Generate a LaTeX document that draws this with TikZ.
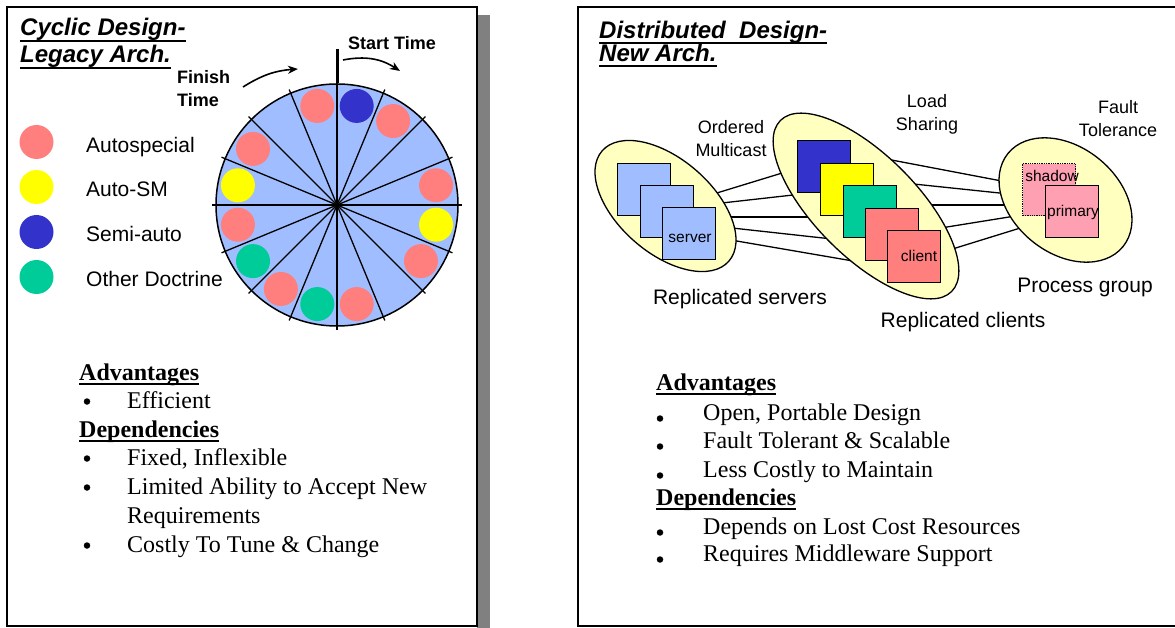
\documentclass[tikz,border=0pt]{standalone}
\usepackage{fontspec}
\setmainfont{Liberation Serif}
\setsansfont{Liberation Sans}
\usetikzlibrary{shapes.geometric,arrows.meta,calc}

\definecolor{wheelblue}{HTML}{A0BEFF}
\definecolor{autospec}{HTML}{FF7F7F}
\definecolor{autosm}{HTML}{FFFF00}
\definecolor{semiauto}{HTML}{3333CC}
\definecolor{doctrine}{HTML}{00CC99}
\definecolor{groupfill}{HTML}{FFFFC0}
\definecolor{procpink}{HTML}{FFA0B2}
\definecolor{shadegray}{HTML}{808080}

\tikzset{
  panel/.style={draw=black, line width=1.5pt, fill=white},
  titletext/.style={font=\sffamily\bfseries\itshape\fontsize{24}{28}\selectfont, anchor=base west, inner sep=0pt},
  titlerule/.style={line width=2pt},
  legenddot/.style={circle, minimum size=34pt, inner sep=0pt},
  slotdot/.style={circle, minimum size=34pt, inner sep=0pt},
  legendlabel/.style={font=\sffamily\fontsize{21}{25}\selectfont, anchor=base west, inner sep=0pt},
  timelabel/.style={font=\sffamily\bfseries\fontsize{18}{22}\selectfont, anchor=base west, inner sep=0pt},
  timearrow/.style={line width=1.6pt, -{Stealth[length=10pt,width=8pt,inset=3pt]}},
  spoke/.style={line width=1.3pt},
  heading/.style={font=\rmfamily\bfseries\fontsize{24}{28}\selectfont, anchor=base west, inner sep=0pt},
  headrule/.style={line width=2.3pt},
  bodytext/.style={font=\rmfamily\fontsize{24}{28}\selectfont, anchor=base west, inner sep=0pt},
  bulletdot/.style={circle, fill=black, minimum size=6.5pt, inner sep=0pt},
  group/.style={ellipse, draw=black, line width=1.3pt, fill=groupfill, inner sep=0pt},
  proc/.style={draw=black, line width=1.3pt, minimum width=53pt, minimum height=52pt, inner sep=0pt, anchor=north west},
  link/.style={line width=1.3pt},
  grouplabel/.style={font=\sffamily\fontsize{18}{22}\selectfont, anchor=base, inner sep=0pt},
  caption/.style={font=\sffamily\fontsize{21}{25}\selectfont, anchor=base, inner sep=0pt},
  boxlabel/.style={font=\sffamily\fontsize{15.5}{18}\selectfont, anchor=base, inner sep=0pt},
}

\begin{document}
\begin{tikzpicture}[x=1pt, y=-1pt]
\useasboundingbox (0,0) rectangle (1175,628);
\clip (0,0) rectangle (1175,628);

% ---------------- panels ----------------
\fill[shadegray] (477,15) rectangle (490,628);
\draw[panel] (7,7) rectangle (477,626);
\draw[panel] (578,7) rectangle (1190,626);

% ---------------- left panel: cyclic design ----------------
\node[titletext] (ltitle1) at (20,36) {Cyclic Design-};
\node[titletext] (ltitle2) at (20,63) {Legacy Arch.};
\draw[titlerule] ([yshift=-5pt]ltitle1.base west) -- ([yshift=-5pt]ltitle1.base east);
\draw[titlerule] ([yshift=-5pt]ltitle2.base west) -- ([yshift=-5pt]ltitle2.base east);

% legend
\node[legenddot, fill=autospec] (lg1) at (36.5,142) {};
\node[legenddot, fill=autosm]   (lg2) at (36.5,187) {};
\node[legenddot, fill=semiauto] (lg3) at (36.5,232) {};
\node[legenddot, fill=doctrine] (lg4) at (36.5,277) {};
\node[legendlabel] (lgt1) at (86,152.5) {Autospecial};
\node[legendlabel] (lgt2) at (86,197) {Auto-SM};
\node[legendlabel] (lgt3) at (86,242) {Semi-auto};
\node[legendlabel] (lgt4) at (86,286.5) {Other Doctrine};

% schedule wheel
\node[circle, draw=black, line width=1.5pt, fill=wheelblue, minimum size=242pt, inner sep=0pt] (wheel) at (337,205) {};
\foreach \ang in {0,22.5,...,337.5}
  \draw[spoke] (wheel.center) -- ++(\ang:125);
\foreach \ang/\col [count=\k] in {11.25/autospec, 56.25/autospec, 78.75/semiauto, 101.25/autospec,
    146.25/autospec, 168.75/autosm, 191.25/autospec, 213.75/doctrine, 236.25/autospec,
    258.75/doctrine, 281.25/autospec, 326.25/autospec, 348.75/autosm}
  \node[slotdot, fill=\col] (slot\k) at ($(wheel.center)+(-\ang:101)$) {};

% start marker and time arrows
\coordinate (starttick) at (337,49);
\draw[line width=3pt] (starttick) -- (wheel.north);
\node[timelabel] (starttxt) at (348,50) {Start Time};
\node[timelabel] (finish1) at (177,84) {Finish};
\node[timelabel] (finish2) at (177,107) {Time};
\coordinate (finA) at (243,87);
\coordinate (finB) at (298,69);
\coordinate (stA) at (343,60);
\coordinate (stB) at (400,71);
\draw[timearrow] (finA) to[bend left=14] (finB);
\draw[timearrow] (stA) to[bend left=22] (stB);

% advantages / dependencies
\node[heading] (ladv) at (79,380) {Advantages};
\draw[headrule] ([yshift=-4pt]ladv.base west) -- ([yshift=-4pt]ladv.base east);
\node[heading] (ldep) at (79,437) {Dependencies};
\draw[headrule] ([yshift=-4pt]ldep.base west) -- ([yshift=-4pt]ldep.base east);
\foreach \txt/\yy [count=\k] in {Efficient/408, {Fixed, Inflexible}/465,
    {Limited Ability to Accept New}/494, {Costly To Tune \& Change}/552}{
  \node[bodytext] (litem\k) at (127,\yy) {\txt};
  \node[bulletdot] (lbul\k) at (87,\yy-6.5) {};
}
\node[bodytext] (litemcont) at (127,523) {Requirements};

% ---------------- right panel: distributed design ----------------
\node[titletext] (rtitle1) at (599,39) {Distributed\ \ Design-};
\node[titletext] (rtitle2) at (599,62) {New Arch.};
\draw[titlerule] ([yshift=-4.5pt]rtitle1.base west) -- ([yshift=-4.5pt]rtitle1.base east);
\draw[titlerule] ([yshift=-4.5pt]rtitle2.base west) -- ([yshift=-4.5pt]rtitle2.base east);

% links between groups (ellipses are drawn over their ends)
\foreach \i/\ax/\ay/\bx/\by in {1/707/196/792/170, 2/713/204/802/194, 3/722/217/815/217,
    4/723/227/832/239, 5/725/239/853/261}{
  \coordinate (sa\i) at (\ax,\ay);
  \coordinate (cb\i) at (\bx,\by);
  \draw[link] (sa\i) -- (cb\i);
}
\foreach \i/\ax/\ay/\bx/\by in {1/881/158/1007/182, 2/904/183/1009/194, 3/923/205/1011/205,
    4/937/228.6/1019/215.4, 5/946/251/1030/225}{
  \coordinate (ca\i) at (\ax,\ay);
  \coordinate (pb\i) at (\bx,\by);
  \draw[link] (ca\i) -- (pb\i);
}

% process groups
\node[group, minimum width=168pt, minimum height=94pt, rotate=-41] (srvgrp) at (665.5,206) {};
\node[group, minimum width=242pt, minimum height=102pt, rotate=-45] (cligrp) at (866,206) {};
\node[group, minimum width=148pt, minimum height=106pt, rotate=-39] (pgrp) at (1065.5,200) {};

% replicated servers
\node[proc, fill=wheelblue] (srv1) at (617,163) {};
\node[proc, fill=wheelblue] (srv2) at (640,185) {};
\node[proc, fill=wheelblue] (srv3) at (662,207) {};
\node[boxlabel] (srvtxt) at (690,243) {server};

% replicated clients
\node[proc, fill=semiauto] (cli1) at (797,140) {};
\node[proc, fill=autosm]   (cli2) at (820,163) {};
\node[proc, fill=doctrine] (cli3) at (843,185) {};
\node[proc, fill=autospec] (cli4) at (865,208) {};
\node[proc, fill=autospec] (cli5) at (887,230) {};
\node[boxlabel] (clitxt) at (919,262) {client};

% primary / shadow pair
\node[proc, fill=procpink, densely dotted] (shadowbox) at (1022,163) {};
\node[proc, fill=procpink] (primarybox) at (1045,185) {};
\node[boxlabel] (shadowtxt) at (1052,182) {shadow};
\node[boxlabel] (primarytxt) at (1073,217) {primary};

% group labels
\node[grouplabel] (om1) at (731,134) {Ordered};
\node[grouplabel] (om2) at (731,157) {Multicast};
\node[grouplabel] (ls1) at (927,108) {Load};
\node[grouplabel] (ls2) at (927,131) {Sharing};
\node[grouplabel] (ft1) at (1118,114) {Fault};
\node[grouplabel] (ft2) at (1118,137) {Tolerance};
\node[caption] (capsrv) at (740,305) {Replicated servers};
\node[caption] (capcli) at (963,327) {Replicated clients};
\node[caption] (capgrp) at (1085,293) {Process group};

% advantages / dependencies
\node[heading] (radv) at (656,390) {Advantages};
\draw[headrule] ([yshift=-4pt]radv.base west) -- ([yshift=-4pt]radv.base east);
\node[heading] (rdep) at (656,505) {Dependencies};
\draw[headrule] ([yshift=-4pt]rdep.base west) -- ([yshift=-4pt]rdep.base east);
\foreach \txt/\yy [count=\k] in {{Open, Portable Design}/420, {Fault Tolerant \& Scalable}/448,
    {Less Costly to Maintain}/477, {Depends on Lost Cost Resources}/534,
    {Requires Middleware Support}/561}{
  \node[bodytext] (ritem\k) at (703,\yy) {\txt};
  \node[bulletdot] (rbul\k) at (660,\yy-1.5) {};
}
\end{tikzpicture}
\end{document}
